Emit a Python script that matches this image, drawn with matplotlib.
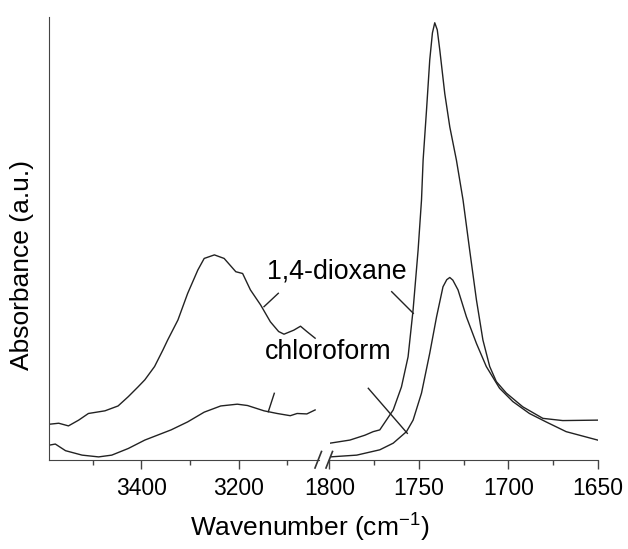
import matplotlib
matplotlib.use("Agg")
import matplotlib.pyplot as plt
from matplotlib.lines import Line2D

plt.rcParams['font.family'] = ['Liberation Sans', 'DejaVu Sans']
plt.rcParams['mathtext.fontset'] = 'custom'
plt.rcParams['mathtext.rm'] = 'Liberation Sans'
plt.rcParams['mathtext.it'] = 'Liberation Sans:italic'

# ---- data (absorbance in arbitrary units) ----
# high-wavenumber region
wn_hi_diox = [3587, 3570, 3550, 3529, 3509, 3475, 3448, 3427, 3407, 3393, 3373, 3356, 3346, 3325, 3305,
              3284, 3271, 3250, 3230, 3206, 3192, 3176, 3155, 3135, 3118, 3107, 3087, 3073, 3060, 3043]
abs_hi_diox = [0.081, 0.083, 0.077, 0.090, 0.105, 0.111, 0.122, 0.143, 0.165, 0.181, 0.211, 0.248, 0.271,
               0.316, 0.376, 0.429, 0.455, 0.463, 0.455, 0.425, 0.421, 0.384, 0.350, 0.312, 0.290,
               0.284, 0.293, 0.302, 0.290, 0.275]
wn_hi_chl = [3587, 3577, 3556, 3522, 3488, 3461, 3427, 3393, 3339, 3305, 3271, 3237,
             3203, 3182, 3148, 3121, 3094, 3080, 3060, 3043]
abs_hi_chl = [0.034, 0.036, 0.021, 0.011, 0.007, 0.011, 0.026, 0.045, 0.068, 0.086, 0.108, 0.122,
              0.126, 0.123, 0.111, 0.105, 0.100, 0.105, 0.104, 0.113]

# carbonyl region
wn_co_diox = [1799.7, 1788.6, 1780.2, 1775.6, 1771.9, 1764.4, 1759.8, 1756.1, 1753.3, 1750.5, 1748.6,
              1747.7, 1745.8, 1744.0, 1742.5, 1741.2, 1739.8, 1738.4, 1735.6, 1732.8, 1729.1, 1725.4,
              1721.7, 1717.9, 1714.3, 1710.5, 1706.8, 1701.2, 1692.0, 1680.8, 1669.7, 1650.2]
abs_co_diox = [0.038, 0.045, 0.056, 0.064, 0.068, 0.113, 0.165, 0.233, 0.339, 0.474, 0.587,
               0.677, 0.790, 0.903, 0.964, 0.987, 0.971, 0.926, 0.827, 0.752, 0.677, 0.587,
               0.474, 0.361, 0.271, 0.211, 0.177, 0.151, 0.120, 0.094, 0.089, 0.090]
wn_co_chl = [1799.7, 1784.8, 1771.9, 1764.4, 1757.0, 1753.3, 1748.6, 1744.0, 1740.2, 1736.6, 1734.5,
             1732.8, 1731.1, 1728.2, 1723.5, 1717.9, 1712.4, 1705.0, 1697.6, 1688.3, 1679.0, 1667.8, 1650.2]
abs_co_chl = [0.007, 0.011, 0.023, 0.038, 0.064, 0.090, 0.151, 0.241, 0.323, 0.391, 0.407,
              0.412, 0.406, 0.384, 0.323, 0.263, 0.211, 0.162, 0.132, 0.105, 0.086, 0.064, 0.045]

hi_ticks = [3400, 3200]
hi_minor = [3500, 3300, 3100]
co_ticks = [1800, 1750, 1700, 1650]
co_minor = [1775, 1725, 1675]

W, H = 628, 549
fig = plt.figure(figsize=(W / 100, H / 100), dpi=100)

def px(x0, y0, x1, y1):
    # pixel box -> figure fraction [left, bottom, width, height]
    return [x0 / W, 1 - y1 / H, (x1 - x0) / W, (y1 - y0) / H]

ax1 = fig.add_axes(px(49, 17, 319, 460))
ax2 = fig.add_axes(px(329.5, 17, 598, 460))

lc = '#222222'
lw = 1.0
ax1.plot(wn_hi_diox, abs_hi_diox, color=lc, lw=lw)
ax1.plot(wn_hi_chl, abs_hi_chl, color=lc, lw=lw)
ax2.plot(wn_co_diox, abs_co_diox, color=lc, lw=lw)
ax2.plot(wn_co_chl, abs_co_chl, color=lc, lw=lw)

ax1.set_xlim(3590, 3035)
ax2.set_xlim(1800, 1650)
for ax in (ax1, ax2):
    ax.set_ylim(0, 1)
    ax.set_yticks([])
    ax.spines['top'].set_visible(False)
    ax.spines['right'].set_visible(False)
    ax.spines['bottom'].set_color('#444444')
    ax.spines['left'].set_color('#444444')
    ax.tick_params(axis='x', which='major', length=6.5, width=1, direction='out',
                   color='#444444', labelsize=16.5, pad=6)
    ax.tick_params(axis='x', which='minor', length=3.5, width=1, direction='out', color='#444444')
ax2.spines['left'].set_visible(False)

ax1.set_xticks(hi_ticks)
ax1.set_xticks(hi_minor, minor=True)
ax2.set_xticks(co_ticks)
ax2.set_xticks(co_minor, minor=True)

# break marks on the x axis
for xa in (315, 326):
    fig.add_artist(Line2D([xa / W, (xa + 6.5) / W], [1 - 468 / H, 1 - 451.5 / H],
                          color='#333333', lw=1.2))

# curve labels with leader lines (figure pixel coordinates)
def leader(x0, y0, x1, y1):
    fig.add_artist(Line2D([x0 / W, x1 / W], [1 - y0 / H, 1 - y1 / H], color=lc, lw=1.0))

fig.text(267 / W, 1 - 272 / H, '1,4-dioxane', fontsize=19.3, va='center', ha='left')
leader(278.3, 293.3, 264, 306.7)
leader(391.7, 291.7, 413.3, 313.3)

fig.text(265 / W, 1 - 352 / H, 'chloroform', fontsize=19.3, va='center', ha='left')
leader(274.3, 393.3, 268.3, 411.7)
leader(368.3, 388.3, 407.3, 433.3)

fig.text(22 / W, 1 - 265 / H, 'Absorbance (a.u.)', fontsize=19, rotation=90,
         va='center', ha='center')
fig.text(310 / W, 1 - 528 / H, 'Wavenumber (cm$^{\\mathregular{-1}}$)', fontsize=19,
         va='center', ha='center')

fig.savefig('out.png', dpi=100)
